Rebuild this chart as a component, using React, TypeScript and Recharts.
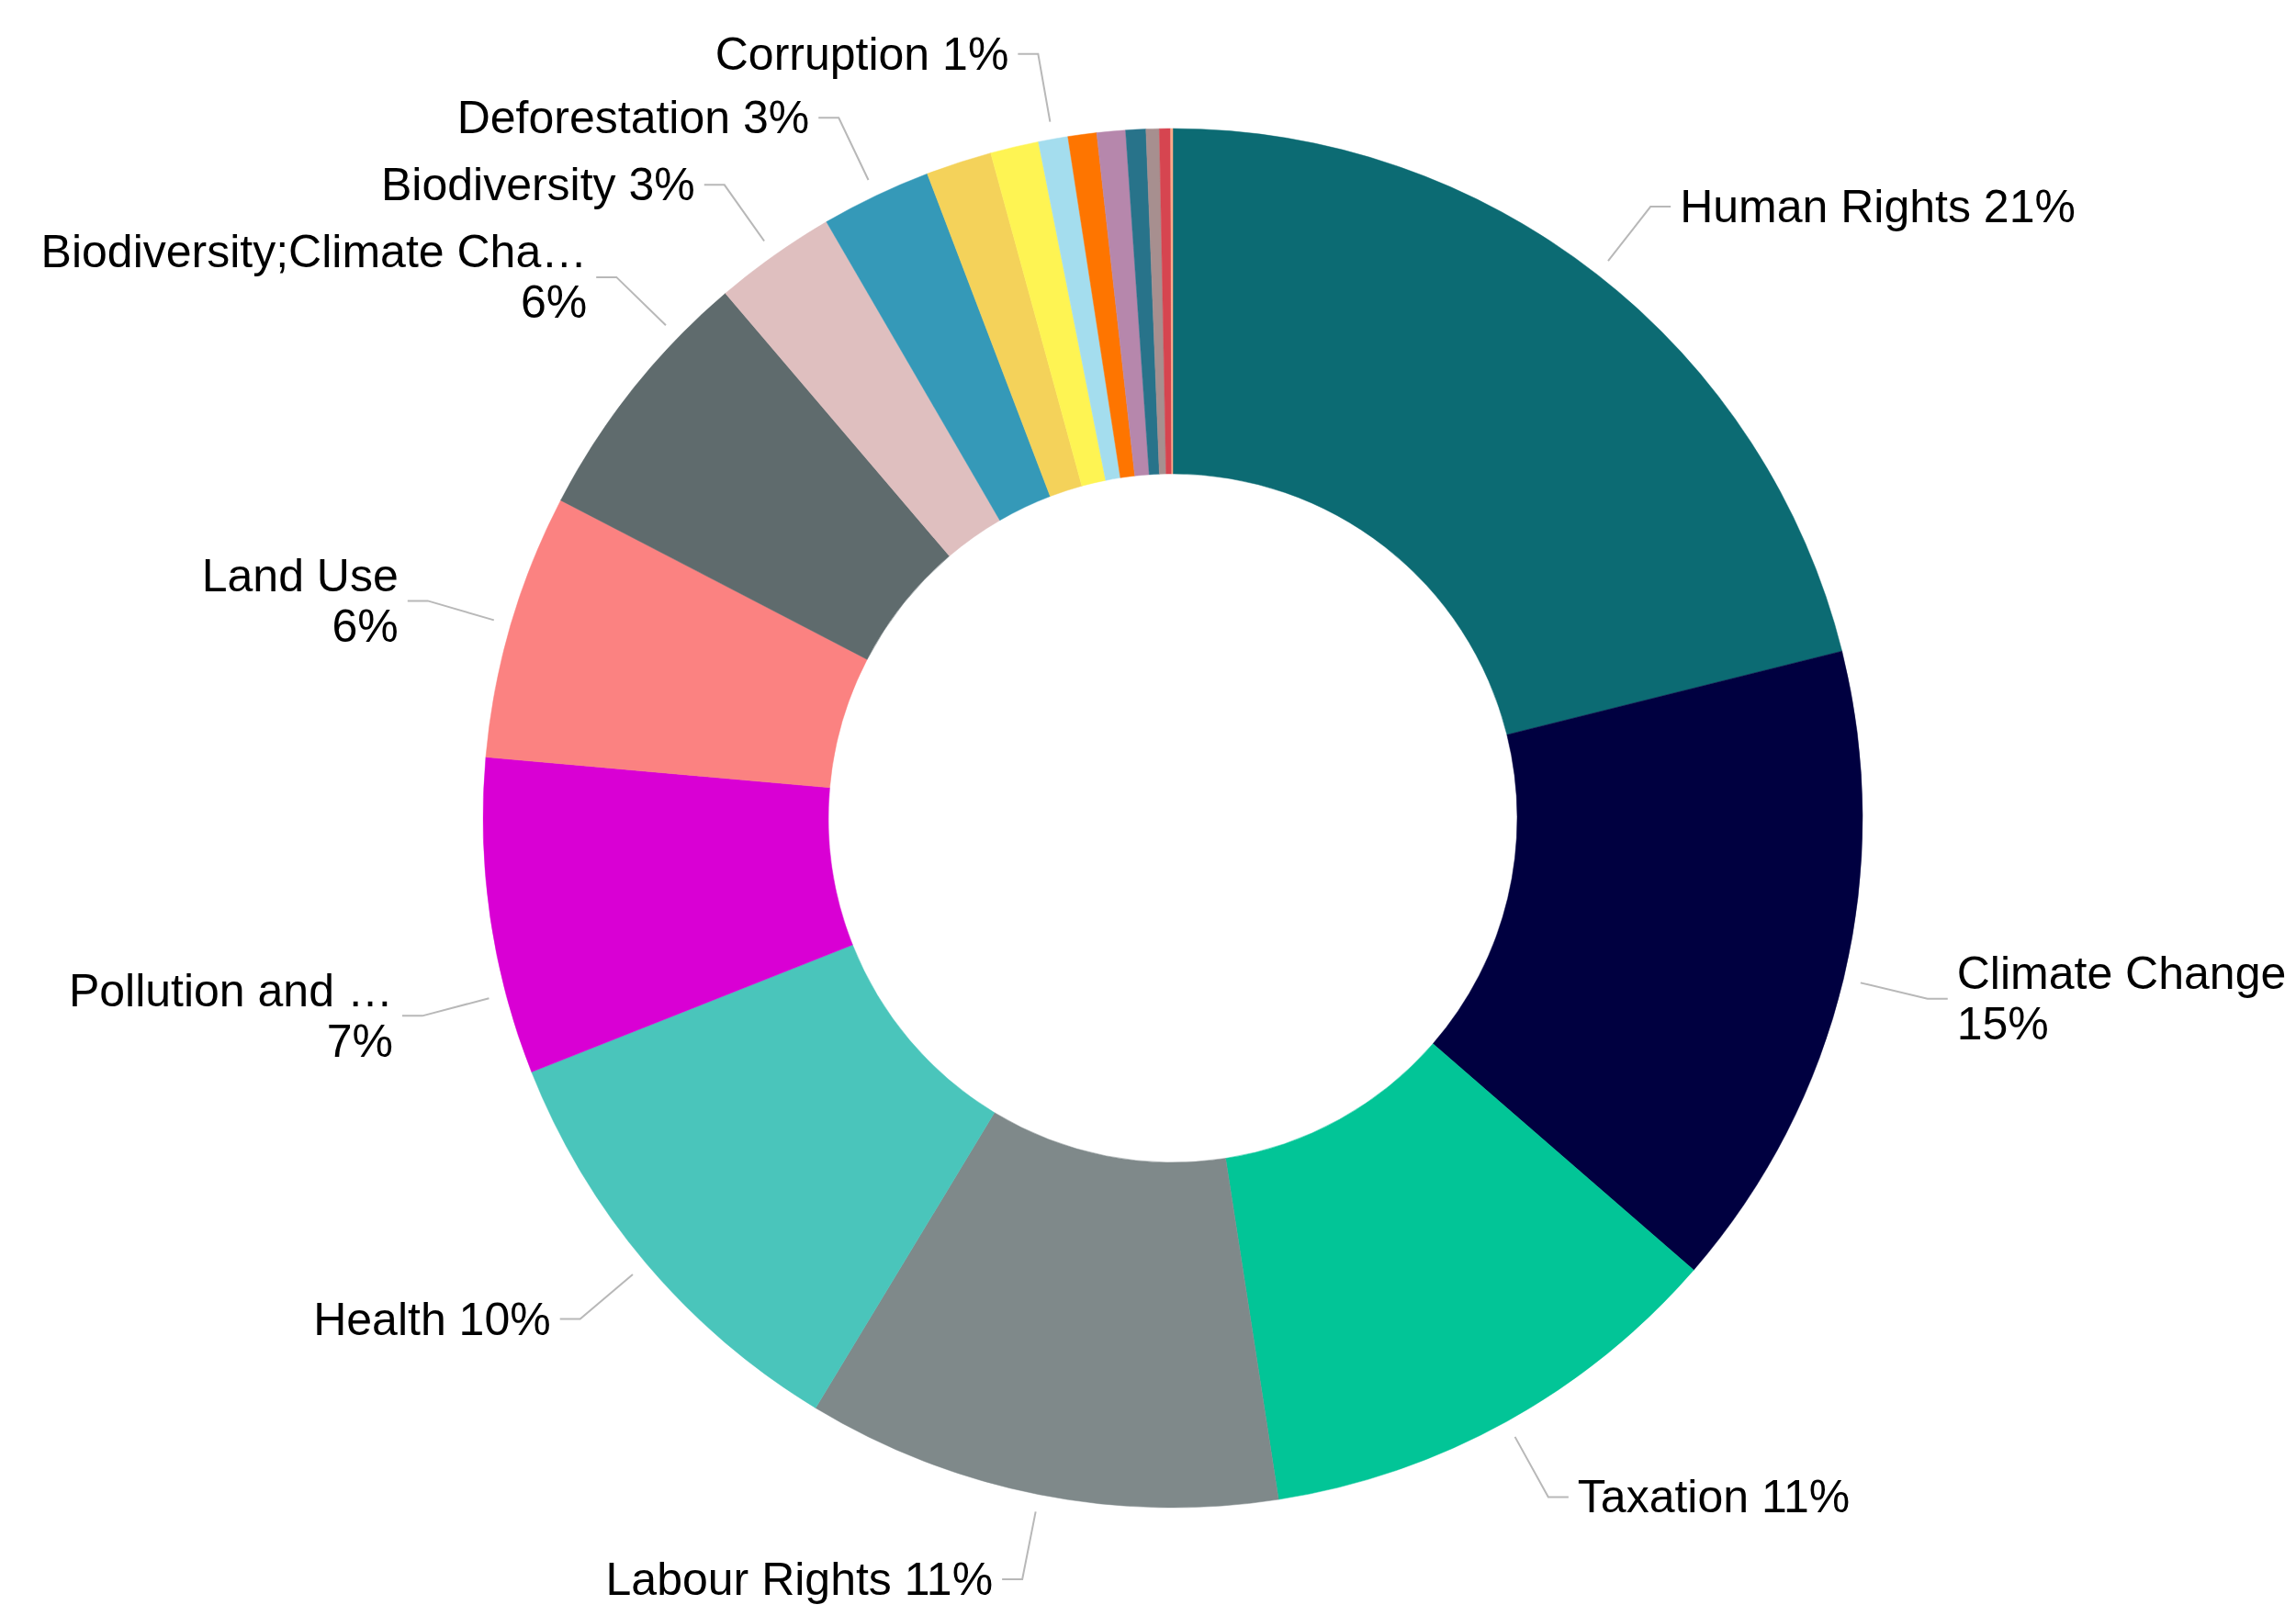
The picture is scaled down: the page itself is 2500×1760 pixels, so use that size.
import React from "react"
import { Cell, Pie, PieChart } from "recharts"

const topics = [
    "Human Rights",
    "Climate Change",
    "Taxation",
    "Labour Rights",
    "Health",
    "Pollution and Waste",
    "Land Use",
    "Biodiversity;Climate Change",
    "Biodiversity",
    "Deforestation",
    "Water",
    "Governance",
    "Corruption",
    "Supply Chain",
    "Animal Welfare",
    "Gender Equality",
    "Indigenous Rights",
    "Oceans",
    "Plastics",
]

const shares = [
    21.1, 15.26, 11.17, 11.11, 10.33, 7.41, 6.21, 6.14, 2.86, 2.58, 1.54, 1.13,
    0.69, 0.67, 0.67, 0.47, 0.31, 0.26, 0.05,
]

const colors = [
    "#0C6B73",
    "#000040",
    "#02C597",
    "#7F898A",
    "#4AC5BB",
    "#D900D4",
    "#FB8281",
    "#5F6B6D",
    "#DFBFBF",
    "#3599B8",
    "#F4D25A",
    "#FEF453",
    "#A4DDEE",
    "#FE7500",
    "#B687AC",
    "#28738A",
    "#A78F8F",
    "#D64550",
    "#FDAB89",
]

// slices that get a data label (the rest are too thin)
const labeledTopics = [
    "Human Rights",
    "Climate Change",
    "Taxation",
    "Labour Rights",
    "Health",
    "Pollution and Waste",
    "Land Use",
    "Biodiversity;Climate Change",
    "Biodiversity",
    "Deforestation",
    "Corruption",
]

const WIDTH = 2500
const HEIGHT = 1760
const FONT = '"Liberation Sans", Arial, sans-serif'
const FONT_SIZE = 50
const LEFT_LIMIT = 32
const RIGHT_LIMIT = 2500

// small clockwise shifts (degrees) of some label anchors
const labelNudge: Record<string, number> = {
    "Pollution and Waste": -6.5,
    "Biodiversity;Climate Change": 5.7,
}

let ctx: CanvasRenderingContext2D | null = null
const measure = (s: string) => {
    if (!ctx) {
        ctx = document.createElement("canvas").getContext("2d")
    }
    if (!ctx) return s.length * FONT_SIZE * 0.55
    ctx.font = `${FONT_SIZE}px ${FONT}`
    return ctx.measureText(s).width
}

const fit = (s: string, avail: number) => {
    if (measure(s) <= avail) return s
    let t = s
    while (t.length > 1 && measure(t + "…") > avail) t = t.slice(0, -1)
    return t + "…"
}

const data = topics.map((name, i) => ({ name, value: shares[i] }))

const renderLabel = (props: any) => {
    const { cx, cy, midAngle, outerRadius, percent, name } = props
    if (!labeledTopics.includes(name)) return null
    const cw = 90 - midAngle + (labelNudge[name] ?? 0)
    const rad = (cw * Math.PI) / 180
    const dx = Math.sin(rad)
    const dy = -Math.cos(rad)
    const sx = cx + (outerRadius + 19) * dx
    const sy = cy + (outerRadius + 19) * dy
    const ex = cx + (outerRadius + 94) * dx
    const ey = cy + (outerRadius + 94) * dy
    const right = dx >= 0
    const hx = ex + (right ? 22 : -22)
    const tx = hx + (right ? 10 : -10)
    const pct = `${Math.round(percent * 100)}%`
    const avail = right ? RIGHT_LIMIT - tx : tx - LEFT_LIMIT
    const oneLine = `${name} ${pct}`
    const nearHorizontal = Math.abs(dy) < 0.5
    const lines =
        !nearHorizontal && measure(oneLine) <= avail
            ? [oneLine]
            : [fit(name, avail), pct]
    const gap = 55
    const y0 = ey - ((lines.length - 1) * gap) / 2

    return (
        <g key={`label-${name}`}>
            <polyline
                points={`${sx},${sy} ${ex},${ey} ${hx},${ey}`}
                fill="none"
                stroke="#B8B8B8"
                strokeWidth={2}
            />
            {lines.map((l, i) => (
                <text
                    key={i}
                    x={tx}
                    y={y0 + i * gap}
                    textAnchor={right ? "start" : "end"}
                    dominantBaseline="central"
                    fill="#000000"
                    fontSize={FONT_SIZE}
                    fontFamily={FONT}
                >
                    {l}
                </text>
            ))}
        </g>
    )
}

const App = () => {
    return (
        <div style={{ position: "absolute", left: 0, top: 0 }}>
            <PieChart
                width={WIDTH}
                height={HEIGHT}
                margin={{ top: 0, right: 0, bottom: 0, left: 0 }}
                style={{ fontFamily: FONT, background: "#ffffff" }}
            >
                <Pie
                    data={data}
                    dataKey="value"
                    nameKey="name"
                    cx={1277}
                    cy={891}
                    innerRadius={375}
                    outerRadius={751}
                    startAngle={90}
                    endAngle={-270}
                    label={renderLabel}
                    labelLine={false}
                    isAnimationActive={false}
                >
                    {data.map((d, i) => (
                        <Cell
                            key={d.name}
                            fill={colors[i]}
                            stroke={colors[i]}
                            strokeWidth={0.5}
                        />
                    ))}
                </Pie>
            </PieChart>
        </div>
    )
}

export default App
